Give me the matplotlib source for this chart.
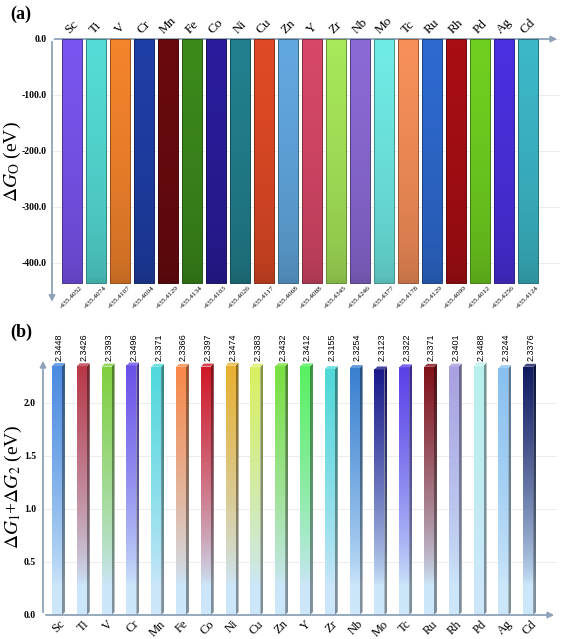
import numpy as np
import matplotlib
matplotlib.use('Agg')
import matplotlib.pyplot as plt
from matplotlib.colors import to_rgb
from matplotlib.patches import Polygon

elements = ['Sc', 'Ti', 'V', 'Cr', 'Mn', 'Fe', 'Co', 'Ni', 'Cu', 'Zn',
            'Y', 'Zr', 'Nb', 'Mo', 'Tc', 'Ru', 'Rh', 'Pd', 'Ag', 'Cd']
dG_O = [-435.4052, -435.4074, -435.4107, -435.4004, -435.4129, -435.4134, -435.4103,
        -435.4026, -435.4117, -435.4068, -435.4088, -435.4345, -435.4246, -435.4377,
        -435.4178, -435.4129, -435.4099, -435.4012, -435.4256, -435.4124]
dG_12 = [2.3448, 2.3426, 2.3393, 2.3496, 2.3371, 2.3366, 2.3397, 2.3474, 2.3383, 2.3432,
         2.3412, 2.3155, 2.3254, 2.3123, 2.3322, 2.3371, 2.3401, 2.3488, 2.3244, 2.3376]
ticks_a = [0, -100, -200, -300, -400]
ticks_b = [0.0, 0.5, 1.0, 1.5, 2.0]
colors_a = ['#7a55f0', '#55dcd6', '#f5842c', '#1f3fa8', '#6a0a0e', '#3c8a1c', '#2a1c9c',
            '#22808e', '#e04a26', '#62a8e0', '#d84868', '#a8e85a', '#8c6ad6', '#70ece6',
            '#f8905a', '#2e6ad0', '#a80e14', '#70d020', '#4a30e0', '#3cb8c8']
colors_b = ['#4a8ae0', '#b83848', '#80d040', '#6a50e8', '#50d8dc', '#f88848', '#d01828',
            '#e8b030', '#d8f060', '#78e040', '#58f060', '#50d8d8', '#3a80d0', '#1a1a8a',
            '#5a40e8', '#801018', '#a8a0e0', '#b8f0ec', '#88c0f0', '#101a60']

plt.rcParams['font.family'] = ['Liberation Serif', 'DejaVu Serif']
plt.rcParams['mathtext.fontset'] = 'stix'

W, H = 565, 639
fig = plt.figure(figsize=(W / 100, H / 100), dpi=100)


def fr(l, t, r, b):
    return [l / W, 1 - b / H, (r - l) / W, (b - t) / H]


axis_col = '#8fa3b8'
grid_col = '#ececec'
x = np.arange(len(elements))

# ---------------- panel (a) ----------------
axA = fig.add_axes(fr(52, 39, 560, 302))
wa = 0.83
bars = axA.bar(x, dG_O, width=wa, color=colors_a, zorder=2)
for xi, v, c, b in zip(x, dG_O, colors_a, bars):
    c = np.array(to_rgb(c))
    t = np.linspace(0, 1, 64)[:, None]  # 0 bottom .. 1 top
    grad = c * (0.78 + 0.22 * t ** 0.5)
    grad = np.clip(grad, 0, 1)[:, None, :]
    im = axA.imshow(grad, extent=[xi - wa / 2, xi + wa / 2, v, 0], origin='lower',
                    aspect='auto', zorder=3, interpolation='bilinear')
    im.set_clip_path(b)
    axA.bar(xi, v, width=wa, facecolor='none', edgecolor=tuple(c * 0.6), linewidth=0.7, zorder=4)
    axA.text(xi + 0.32, v - 4, f'{v:.4f}', rotation=45, rotation_mode='anchor',
             ha='right', va='top', fontsize=5.3)
    axA.text(xi, 5, elements[xi], rotation=45, ha='center', va='bottom', fontsize=9.5)
axA.set_xlim(-0.833, 20.33)
axA.set_ylim(-470, 0)
axA.set_yticks(ticks_a)
axA.set_yticklabels([f'{t:.1f}' for t in ticks_a], fontsize=7, fontweight='bold')
axA.set_xticks([])
axA.tick_params(axis='y', length=0, pad=4)
axA.yaxis.grid(True, color=grid_col, lw=0.7, zorder=0)
for s in axA.spines.values():
    s.set_visible(False)
axA.annotate('', xy=(0, -0.01), xycoords='axes fraction', xytext=(0, 1),
             arrowprops=dict(arrowstyle='-|>', color=axis_col, lw=1.3, mutation_scale=9))
axA.annotate('', xy=(1.0, 1), xycoords='axes fraction', xytext=(0, 1),
             arrowprops=dict(arrowstyle='-|>', color=axis_col, lw=1.3, mutation_scale=9))

# ---------------- panel (b) ----------------
axB = fig.add_axes(fr(43, 358, 557, 615))
wb = 0.40
d, dy = 0.12, 0.028
light = np.array(to_rgb('#cce6fa'))
barsb = axB.bar(x, dG_12, width=wb, color=colors_b, zorder=2)
for xi, v, c, b in zip(x, dG_12, colors_b, barsb):
    c = np.array(to_rgb(c))
    t = np.linspace(0, 1, 128)[:, None]
    f = np.clip((t - 0.12) / 0.88, 0, 1) ** 0.75
    grad = light * (1 - f) + c * f
    im = axB.imshow(grad[:, None, :], extent=[xi - wb / 2, xi + wb / 2, 0, v], origin='lower',
                    aspect='auto', zorder=3, interpolation='bilinear')
    im.set_clip_path(b)
    # side face
    side = Polygon([(xi + wb / 2, 0), (xi + wb / 2 + d, dy), (xi + wb / 2 + d, v + dy),
                    (xi + wb / 2, v)], closed=True, facecolor='none', edgecolor='none')
    axB.add_patch(side)
    im2 = axB.imshow((grad * 0.62)[:, None, :], extent=[xi + wb / 2, xi + wb / 2 + d, 0, v + dy],
                     origin='lower', aspect='auto', zorder=3, interpolation='bilinear')
    im2.set_clip_path(side)
    # top face
    top = Polygon([(xi - wb / 2, v), (xi - wb / 2 + d, v + dy), (xi + wb / 2 + d, v + dy),
                   (xi + wb / 2, v)], closed=True,
                  facecolor=tuple(np.clip(c * 0.8 + 0.2, 0, 1)), edgecolor='none', zorder=4)
    axB.add_patch(top)
    axB.text(xi + 0.1, 2.39, f'{v:.4f}', rotation=90, ha='center', va='bottom',
             fontsize=6.5, family=['Liberation Sans', 'DejaVu Sans'])
    axB.text(xi + 0.05, -0.03, elements[xi], rotation=45, ha='center', va='top', fontsize=9)
axB.set_xlim(-0.565, 20.16)
axB.set_ylim(0, 2.42)
axB.set_yticks(ticks_b)
axB.set_yticklabels([f'{t:.1f}' for t in ticks_b], fontsize=7, fontweight='bold')
axB.set_xticks([])
axB.tick_params(axis='y', length=0, pad=5)
axB.yaxis.grid(True, color=grid_col, lw=0.7, zorder=0)
for s in axB.spines.values():
    s.set_visible(False)
axB.annotate('', xy=(0, 1.0), xycoords='axes fraction', xytext=(0, 0),
             arrowprops=dict(arrowstyle='-|>', color=axis_col, lw=1.3, mutation_scale=9))
axB.annotate('', xy=(1.0, 0), xycoords='axes fraction', xytext=(0, 0),
             arrowprops=dict(arrowstyle='-|>', color=axis_col, lw=1.3, mutation_scale=9))

# labels
fig.text(12 / W, 1 - 162 / H, r'$\Delta G_{\mathrm{O}}$ (eV)', rotation=90, ha='center',
         va='center', fontsize=14)
fig.text(13 / W, 1 - 487 / H, r'$\Delta G_1$+$\Delta G_2$ (eV)', rotation=90, ha='center',
         va='center', fontsize=14)
fig.text(10 / W, 1 - 14 / H, '(a)', ha='left', va='center', fontsize=13, fontweight='bold')
fig.text(10 / W, 1 - 332 / H, '(b)', ha='left', va='center', fontsize=13, fontweight='bold')

fig.savefig('out.png', dpi=100)
